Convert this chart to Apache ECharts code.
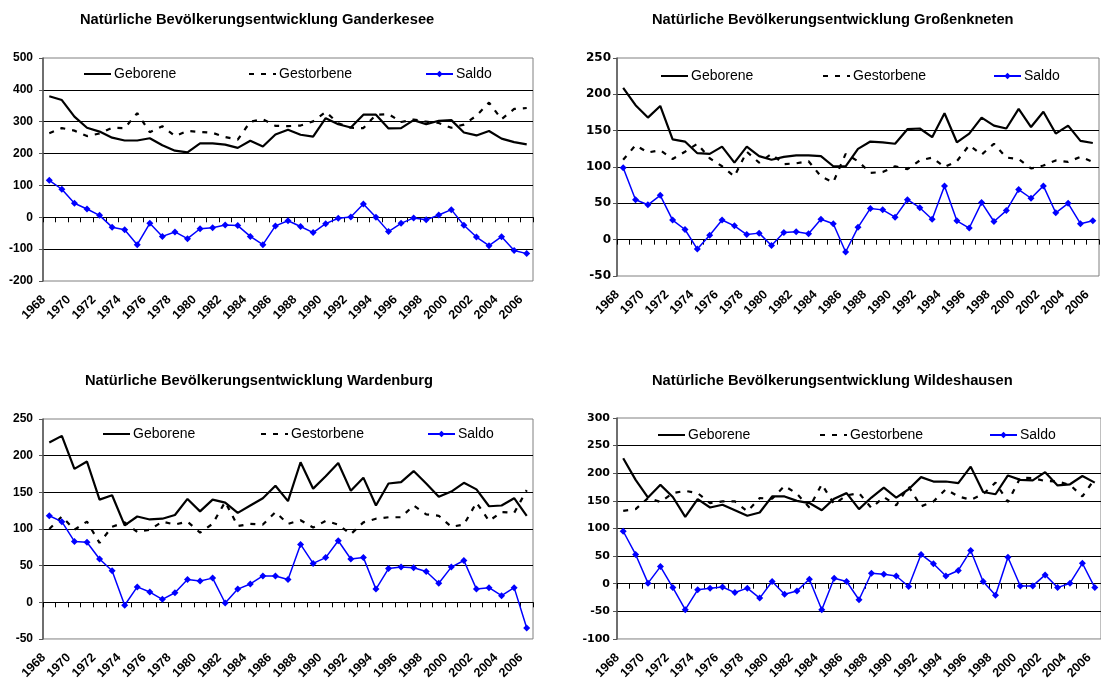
<!DOCTYPE html>
<html>
<head>
<meta charset="utf-8">
<script src="https://cdn.jsdelivr.net/npm/echarts@6/dist/echarts.min.js"></script>
<style>
html, body { margin: 0; padding: 0; background: #fff; }
#mychart { width: 1101px; height: 682px; }
</style>
</head>
<body>
<div id="mychart"></div>
<script>
// Jahre (Kategorien)
var years = ['1968', '1969', '1970', '1971', '1972', '1973', '1974', '1975', '1976', '1977',
    '1978', '1979', '1980', '1981', '1982', '1983', '1984', '1985', '1986', '1987',
    '1988', '1989', '1990', '1991', '1992', '1993', '1994', '1995', '1996', '1997',
    '1998', '1999', '2000', '2001', '2002', '2003', '2004', '2005', '2006']

// Ganderkesee
var gebGanderkesee = [380, 368, 316, 281, 269, 250, 241, 241, 248, 226, 209, 204, 232, 232, 228, 218, 240, 222, 260, 275,
    259, 253, 311, 292, 282, 322, 322, 279, 280, 305, 292, 303, 305, 266, 257, 271, 247, 236, 229]
var gestGanderkesee = [264, 280, 272, 255, 263, 281, 280, 327, 267, 286, 255, 271, 268, 265, 252, 244, 300, 308, 287, 286,
    288, 301, 331, 295, 281, 280, 322, 324, 299, 307, 300, 296, 281, 291, 319, 360, 308, 340, 343]
var saldoGanderkesee = [116, 88, 44, 26, 6, -31, -39, -86, -19, -60, -46, -67, -36, -33, -24, -26, -60, -86, -27, -11,
    -29, -48, -20, -3, 1, 42, 0, -45, -19, -2, -8, 7, 24, -25, -62, -89, -61, -104, -114]

// Großenkneten
var gebGrossenkneten = [209, 185, 168, 184, 138, 135, 119, 118, 128, 106, 128, 115, 110, 114, 116, 116, 115, 101, 101, 125,
    135, 134, 132, 152, 153, 141, 174, 134, 146, 168, 157, 153, 180, 155, 176, 146, 157, 136, 133]
var gestGrossenkneten = [110, 130, 120, 123, 111, 121, 132, 112, 101, 87, 121, 106, 118, 104, 105, 108, 87, 79, 118, 108,
    92, 93, 101, 97, 109, 113, 100, 108, 130, 117, 132, 113, 111, 98, 102, 109, 107, 114, 107]
var saldoGrossenkneten = [99, 55, 48, 61, 27, 14, -13, 6, 27, 19, 7, 9, -8, 10, 11, 8, 28, 22, -17, 17,
    43, 41, 31, 55, 44, 28, 74, 26, 16, 51, 25, 40, 69, 57, 74, 37, 50, 22, 26]

// Wardenburg
var gebWardenburg = [218, 227, 182, 192, 140, 146, 105, 117, 113, 114, 119, 141, 124, 140, 136, 122, 132, 142, 159, 138,
    191, 155, 172, 190, 152, 170, 132, 162, 164, 179, 162, 144, 151, 163, 154, 131, 132, 142, 118]
var gestWardenburg = [100, 117, 99, 110, 81, 103, 109, 96, 99, 110, 106, 110, 95, 107, 137, 104, 107, 106, 123, 107,
    112, 102, 111, 106, 93, 109, 114, 116, 116, 132, 120, 118, 103, 106, 136, 111, 123, 122, 153]
var saldoWardenburg = [118, 110, 83, 82, 59, 43, -4, 21, 14, 4, 13, 31, 29, 33, -1, 18, 25, 36, 36, 31,
    79, 53, 61, 84, 59, 61, 18, 46, 48, 47, 42, 26, 48, 57, 18, 20, 9, 20, -35]

// Wildeshausen
var gebWildeshausen = [227, 188, 156, 179, 157, 121, 153, 138, 143, 133, 123, 129, 158, 158, 150, 146, 133, 154, 164, 135,
    156, 174, 156, 171, 193, 185, 185, 182, 212, 166, 162, 196, 188, 187, 202, 178, 180, 195, 183]
var gestWildeshausen = [132, 135, 155, 148, 164, 168, 164, 146, 149, 149, 131, 155, 154, 177, 163, 138, 180, 144, 160, 164,
    137, 157, 142, 176, 140, 149, 171, 158, 152, 162, 183, 148, 192, 191, 186, 185, 179, 158, 190]
var saldoWildeshausen = [95, 53, 1, 31, -7, -47, -11, -8, -6, -16, -8, -26, 4, -19, -13, 8, -47, 10, 4, -29,
    19, 17, 14, -5, 53, 36, 14, 24, 60, 4, -21, 48, -4, -4, 16, -7, 1, 37, -7]

var FONT = "'Liberation Sans', Arial, sans-serif"
var WIDE = "'DejaVu Sans', sans-serif"

// Anordnung der vier Diagramme
var panels = [
    {title: 'Natürliche Bevölkerungsentwicklung Ganderkesee', tx: 80, ty: 12,
        left: 43, top: 58, width: 490, height: 223, min: -200, max: 500, step: 100,
        lm: 10, lf: FONT, ls: 12,
        lg: [83, 248, 425], ly: 67,
        geb: gebGanderkesee, gest: gestGanderkesee, saldo: saldoGanderkesee},
    {title: 'Natürliche Bevölkerungsentwicklung Großenkneten', tx: 652, ty: 12,
        left: 617, top: 58, width: 482, height: 218, min: -50, max: 250, step: 50,
        lm: 6, lf: WIDE, ls: 12,
        lg: [660, 822, 993], ly: 69,
        geb: gebGrossenkneten, gest: gestGrossenkneten, saldo: saldoGrossenkneten},
    {title: 'Natürliche Bevölkerungsentwicklung Wardenburg', tx: 85, ty: 373,
        left: 43, top: 419, width: 490, height: 222, min: -50, max: 250, step: 50,
        lm: 10, lf: FONT, ls: 12,
        lg: [102, 260, 427], ly: 427,
        geb: gebWardenburg, gest: gestWardenburg, saldo: saldoWardenburg},
    {title: 'Natürliche Bevölkerungsentwicklung Wildeshausen', tx: 652, ty: 373,
        left: 617, top: 418, width: 488, height: 223, min: -100, max: 300, step: 50,
        lm: 7, lf: WIDE, ls: 11,
        lg: [657, 819, 989], ly: 428,
        geb: gebWildeshausen, gest: gestWildeshausen, saldo: saldoWildeshausen}
]

var option = {
    animation: false,
    backgroundColor: '#fff',
    title: [],
    legend: [],
    grid: [],
    xAxis: [],
    yAxis: [],
    series: []
}

var names = ['Geborene', 'Gestorbene', 'Saldo']

panels.forEach(function (p, k) {
    option.title.push({
        text: p.title,
        left: p.tx,
        top: p.ty,
        padding: 0,
        textStyle: {fontFamily: FONT, fontSize: 14.7, fontWeight: 'bold', color: '#000'}
    })
    option.grid.push({
        left: p.left, top: p.top, width: p.width, height: p.height,
        show: true, borderColor: '#808080', borderWidth: 1, backgroundColor: 'transparent'
    })
    // Beschriftung unten
    option.xAxis.push({
        gridIndex: k,
        type: 'category',
        data: years,
        boundaryGap: true,
        position: 'bottom',
        axisLine: {show: false, onZero: false},
        axisTick: {show: false},
        splitLine: {show: false},
        axisLabel: {
            rotate: 45, interval: 1, margin: 11,
            padding: [0, 8, 0, 0],
            fontFamily: FONT, fontSize: 12.5, fontWeight: 'bold', color: '#000'
        }
    })
    // Achse bei 0 mit Strichen
    option.xAxis.push({
        gridIndex: k,
        type: 'category',
        data: years,
        boundaryGap: true,
        position: 'bottom',
        axisLine: {show: true, onZero: true, lineStyle: {color: '#000', width: 1}},
        axisTick: {show: true, interval: 0, length: 5, lineStyle: {color: '#000', width: 1}},
        axisLabel: {show: false},
        splitLine: {show: false}
    })
    option.yAxis.push({
        gridIndex: k,
        type: 'value',
        min: p.min,
        max: p.max,
        interval: p.step,
        axisLine: {show: true, onZero: false, lineStyle: {color: '#555', width: 1.5}},
        axisTick: {show: true, length: 4, lineStyle: {color: '#555'}},
        axisLabel: {margin: p.lm, fontFamily: p.lf, fontSize: p.ls, fontWeight: 'bold', color: '#000'},
        splitLine: {show: true, showMinLine: false, showMaxLine: false, lineStyle: {color: '#000', width: 1}}
    })

    option.series.push({
        name: 'Geborene', type: 'line', xAxisIndex: 2 * k, yAxisIndex: k,
        data: p.geb, symbol: 'none',
        lineStyle: {color: '#000', width: 2.2},
        itemStyle: {color: '#000'}
    })
    option.series.push({
        name: 'Gestorbene', type: 'line', xAxisIndex: 2 * k, yAxisIndex: k,
        data: p.gest, symbol: 'none',
        lineStyle: {color: '#000', width: 2.2, type: [5, 7]},
        itemStyle: {color: '#000'}
    })
    option.series.push({
        name: 'Saldo', type: 'line', xAxisIndex: 2 * k, yAxisIndex: k,
        data: p.saldo, symbol: 'diamond', symbolSize: 7,
        lineStyle: {color: '#0000ff', width: 1.5},
        itemStyle: {color: '#0000ff'}
    })

    for (var i = 0; i < 3; i++) {
        var lg = {
            data: [names[i]],
            left: p.lg[i],
            top: p.ly,
            padding: 0,
            itemWidth: 27,
            itemHeight: 8,
            itemGap: 0,
            selectedMode: false,
            textStyle: {fontFamily: FONT, fontSize: 14, color: '#000', padding: [0, 0, 0, -2]}
        }
        // nur Linie ohne Punkt bei Geborene / Gestorbene
        if (i < 2) {
            lg.itemStyle = {color: 'rgba(0,0,0,0)', borderColor: 'rgba(0,0,0,0)', borderWidth: 0}
        }
        option.legend.push(lg)
    }
})

var myChart = echarts.init(document.getElementById('mychart'))
myChart.setOption(option)
</script>
</body>
</html>
